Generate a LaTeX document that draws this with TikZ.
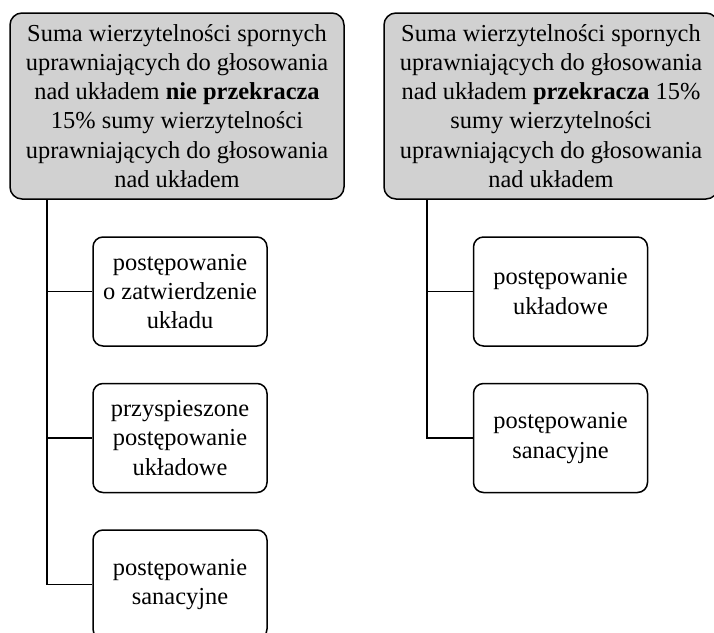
\documentclass[tikz,border=0pt]{standalone}
\usepackage{fontspec}
\setmainfont{Liberation Serif}
\usetikzlibrary{positioning}
\tikzset{
  headbox/.style={draw, line width=0.75pt, rounded corners=6pt, fill=black!18,
    minimum width=167pt, minimum height=93pt, align=center, inner sep=0pt,
    font=\fontsize{12.2}{14.6}\selectfont},
  leafbox/.style={draw, line width=0.75pt, rounded corners=5pt,
    minimum width=87pt, minimum height=54.5pt, align=center, inner sep=0pt,
    font=\fontsize{12.2}{14.6}\selectfont},
  trunk/.style={line width=0.75pt}
}
\begin{document}
\begin{tikzpicture}[x=0.5pt, y=-0.5pt]
        % frame
        \clip (0,0) rectangle (714,633);
        % left branch
        \node [headbox] (headL) at (177,106) {Suma wierzytelności spornych\\uprawniających do głosowania\\nad układem \textbf{nie przekracza}\\15\% sumy wierzytelności\\uprawniających do głosowania\\nad układem};
        \node [leafbox] (leafLa) at (180,291.5) {postępowanie\\o zatwierdzenie\\układu};
        \node [leafbox] (leafLb) at (180,438) {przyspieszone\\postępowanie\\układowe};
        \node [leafbox] (leafLc) at (180,584.5) {postępowanie\\sanacyjne};
        \coordinate (rootL) at (47,199);
        \draw [trunk] (rootL) -- (rootL |- leafLc.west) -- (leafLc.west);
        \draw [trunk] (rootL |- leafLa.west) -- (leafLa.west);
        \draw [trunk] (rootL |- leafLb.west) -- (leafLb.west);
        % right branch
        \node [headbox] (headR) at (551,106) {Suma wierzytelności spornych\\uprawniających do głosowania\\nad układem \textbf{przekracza} 15\%\\sumy wierzytelności\\uprawniających do głosowania\\nad układem};
        \node [leafbox] (leafRa) at (560.5,291.5) {postępowanie\\układowe};
        \node [leafbox] (leafRb) at (560.5,438) {postępowanie\\sanacyjne};
        \coordinate (rootR) at (427,199);
        \draw [trunk] (rootR) -- (rootR |- leafRb.west) -- (leafRb.west);
        \draw [trunk] (rootR |- leafRa.west) -- (leafRa.west);
    \end{tikzpicture}
\end{document}
